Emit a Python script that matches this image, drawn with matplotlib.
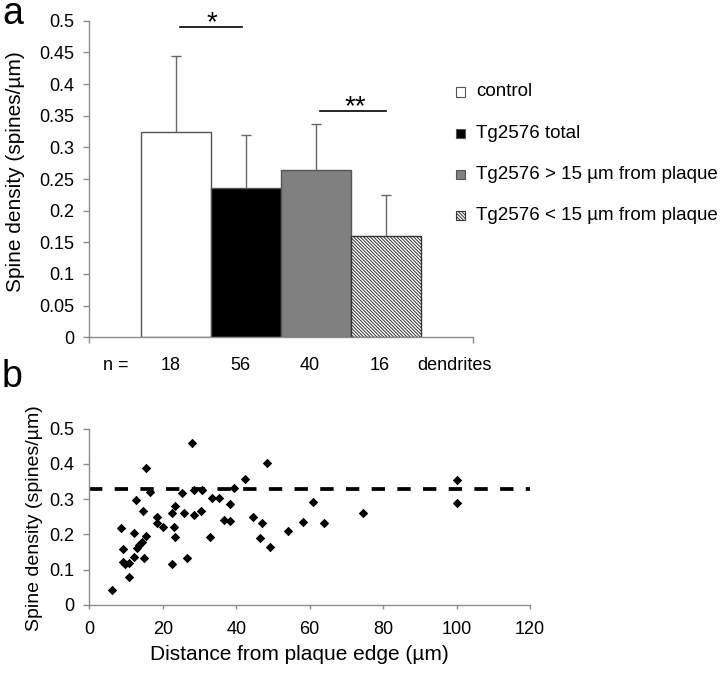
import matplotlib
matplotlib.use('Agg')
import matplotlib.pyplot as plt
from matplotlib.patches import Rectangle
from matplotlib.lines import Line2D
from matplotlib.ticker import FuncFormatter, MultipleLocator
from matplotlib.transforms import blended_transform_factory, offset_copy

plt.rcParams['font.family'] = ['Liberation Sans', 'DejaVu Sans']
plt.rcParams['hatch.linewidth'] = 0.7
plt.rcParams['lines.scale_dashes'] = False

# ---------------- data ----------------
groups = ['control', 'Tg2576 total', 'Tg2576 > 15 µm from plaque', 'Tg2576 < 15 µm from plaque']
means = [0.325, 0.235, 0.265, 0.160]
errors = [0.120, 0.085, 0.072, 0.065]
n_dendrites = [18, 56, 40, 16]

dist = [6.2, 8.6, 9.3, 9.3, 9.8, 10.7, 10.7, 12.1, 12.1, 12.7, 13.0, 13.5, 14.4, 14.6,
        14.8, 15.5, 15.5, 16.4, 18.4, 18.4, 20.2, 22.5, 22.5, 23.0, 23.2, 23.4, 25.3,
        25.7, 26.6, 28.0, 28.4, 28.4, 30.4, 30.7, 32.8, 33.4, 35.2, 36.6, 38.2, 38.4,
        39.5, 42.3, 44.5, 46.4, 46.9, 48.4, 49.3, 54.0, 58.1, 61.0, 63.8, 74.6, 100.0, 100.0]
dens = [0.042, 0.217, 0.158, 0.122, 0.115, 0.118, 0.080, 0.203, 0.136, 0.297, 0.160, 0.170,
        0.179, 0.266, 0.132, 0.195, 0.389, 0.321, 0.250, 0.231, 0.222, 0.260, 0.116, 0.222,
        0.280, 0.193, 0.316, 0.260, 0.132, 0.460, 0.326, 0.255, 0.267, 0.326, 0.191, 0.302,
        0.302, 0.241, 0.285, 0.238, 0.332, 0.356, 0.250, 0.189, 0.233, 0.402, 0.163, 0.210,
        0.236, 0.292, 0.231, 0.260, 0.354, 0.288]
control_ref = 0.33

# ---------------- layout helpers ----------------
W, H = 720, 676
fig = plt.figure(figsize=(7.2, 6.76), dpi=100)


def fx(x):
    return x / W


def fy(y):
    return 1 - y / H


AX = '#8c8c8c'
TICK_FS = 13
fmt = FuncFormatter(lambda v, p: '%g' % round(v, 3))

# ---------------- panel a ----------------
ax1 = fig.add_axes([fx(89), fy(337.3), 384 / W, (337.3 - 20.7) / H])
xs = list(range(len(means)))
faces = ['white', 'black', '#808080', 'white']
edges = ['#555555', '#555555', '#555555', '#333333']
hatches = [None, None, None, '\\' * 10]
for x, m, fc, ec, h in zip(xs, means, faces, edges, hatches):
    ax1.bar(x, m, width=1.0, color=fc, edgecolor=ec, linewidth=1.0, hatch=h, zorder=2)
tops = [m + e for m, e in zip(means, errors)]
ax1.vlines(xs, means, tops, color='#666666', linewidth=1.0, zorder=3)
ax1.hlines(tops, [x - 0.072 for x in xs], [x + 0.072 for x in xs], color='#666666',
           linewidth=1.0, zorder=3)

ax1.set_xlim(-1.25, 4.25)
ax1.set_ylim(0, 0.5)
ax1.set_xticks([-1.25, 4.25])
ax1.set_xticklabels(['', ''])
ax1.yaxis.set_major_locator(MultipleLocator(0.05))
ax1.yaxis.set_major_formatter(fmt)
for s in ['top', 'right']:
    ax1.spines[s].set_visible(False)
for s in ['left', 'bottom']:
    ax1.spines[s].set_color(AX)
    ax1.spines[s].set_linewidth(1.0)
ax1.tick_params(axis='both', direction='out', length=4.3, width=1.0, color=AX,
                labelsize=TICK_FS, pad=6.5)
ax1.patch.set_alpha(0)

# significance brackets
fig.add_artist(Line2D([fx(180), fx(241.7)], [fy(26.7), fy(26.7)], color='black', lw=1.2))
fig.add_artist(Line2D([fx(320), fx(385.7)], [fy(110.7), fy(110.7)], color='black', lw=1.2))
fig.text(fx(211.7), fy(30.5), '*', ha='center', va='baseline', fontsize=20)
fig.text(fx(355), fy(114.5), '**', ha='center', va='baseline', fontsize=20)

# n row
trans = offset_copy(blended_transform_factory(ax1.transData, fig.transFigure),
                    fig=fig, x=-6, y=0, units='dots')
for x, n in zip(xs, n_dendrites):
    ax1.text(x, fy(370), str(n), transform=trans, ha='center', va='baseline',
             fontsize=13, clip_on=False)
fig.text(fx(103), fy(370), 'n =', ha='left', va='baseline', fontsize=13)
fig.text(fx(417), fy(370), 'dendrites', ha='left', va='baseline', fontsize=13)

# y label a
fig.text(fx(16), fy(172), 'Spine density (spines/µm)', rotation=90, ha='center',
         va='center', fontsize=15)

# legend (manual)
row_y = [92, 133.5, 174.5, 215.5]
for yy, lab, fc, ec, h in zip(row_y, groups, faces, edges, hatches):
    r = Rectangle((fx(456), fy(yy + 4.75)), 9.5 / W, 9.5 / H, transform=fig.transFigure,
                  facecolor=fc, edgecolor=ec, linewidth=0.8, hatch=h)
    fig.add_artist(r)
    fig.text(fx(476), fy(yy), lab, ha='left', va='center', fontsize=13.5)

# panel labels
fig.text(fx(13), fy(24.5), 'a', ha='center', va='baseline', fontsize=27)
fig.text(fx(12.5), fy(387), 'b', ha='center', va='baseline', fontsize=27)

# ---------------- panel b ----------------
ax2 = fig.add_axes([fx(89.3), fy(604.7), (530 - 89.3) / W, (604.7 - 428.7) / H])
ax2.scatter(dist, dens, marker='D', s=4.8 ** 2, color='black', linewidths=0, zorder=3)
ax2.axhline(control_ref, color='black', lw=2.7, dashes=(9.6, 8.9), zorder=2)
ax2.set_xlim(0, 120)
ax2.set_ylim(0, 0.5)
ax2.xaxis.set_major_locator(MultipleLocator(20))
ax2.yaxis.set_major_locator(MultipleLocator(0.1))
ax2.yaxis.set_major_formatter(fmt)
ax2.xaxis.set_major_formatter(fmt)
for s in ['top', 'right']:
    ax2.spines[s].set_visible(False)
for s in ['left', 'bottom']:
    ax2.spines[s].set_color(AX)
    ax2.spines[s].set_linewidth(1.0)
ax2.tick_params(axis='y', direction='out', length=4.3, width=1.0, color=AX,
                labelsize=TICK_FS, pad=6.5)
ax2.tick_params(axis='x', direction='out', length=3.0, width=1.0, color=AX,
                labelsize=TICK_FS, pad=9)
ax2.patch.set_alpha(0)

fig.text(fx(35), fy(518), 'Spine density (spines/µm)', rotation=90, ha='center',
         va='center', fontsize=14)
fig.text(fx(299.5), fy(654), 'Distance from plaque edge (µm)', ha='center', va='center',
         fontsize=15)

fig.savefig('out.png', dpi=100)
